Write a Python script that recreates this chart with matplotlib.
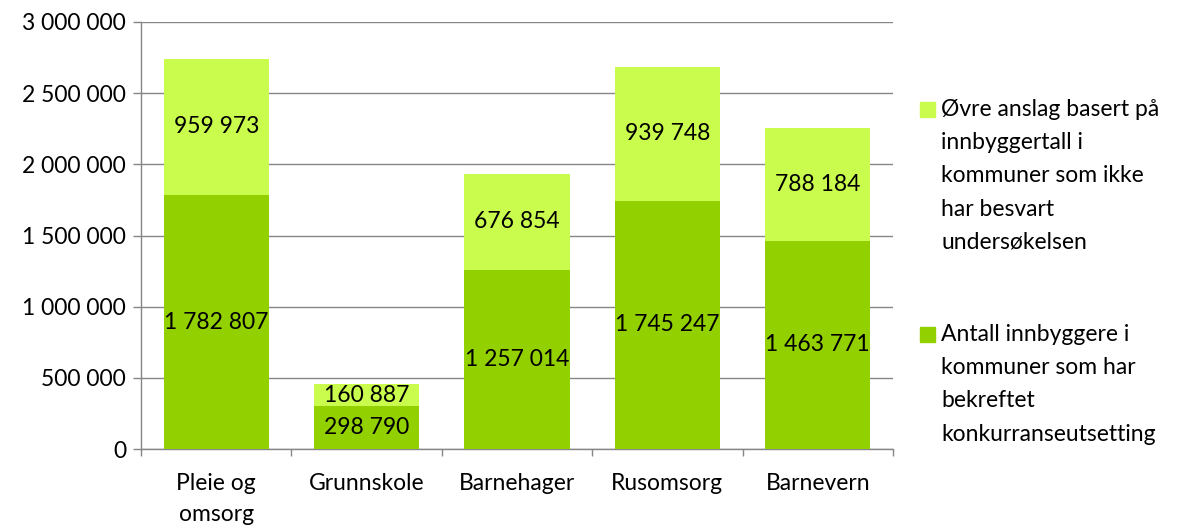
import matplotlib
matplotlib.use("Agg")
import matplotlib.pyplot as plt
from matplotlib.patches import Rectangle
import numpy as np

categories = ["Pleie og\nomsorg", "Grunnskole", "Barnehager", "Rusomsorg", "Barnevern"]
bekreftet = [1782807, 298790, 1257014, 1745247, 1463771]
ovre = [959973, 160887, 676854, 939748, 788184]
legend_labels = [
    "Øvre anslag basert på\ninnbyggertall i\nkommuner som ikke\nhar besvart\nundersøkelsen",
    "Antall innbyggere i\nkommuner som har\nbekreftet\nkonkurranseutsetting",
]
yticks = [0, 500000, 1000000, 1500000, 2000000, 2500000, 3000000]

c_low = "#92D000"
c_up = "#C9FC4C"
grid_c = "#868686"
FONT = "Lato"
FS = 16.5
LS = 1.72

plt.rcParams["font.family"] = [FONT, "DejaVu Sans"]

def fmt(v):
    return f"{v:,}".replace(",", " ")

fig = plt.figure(figsize=(11.77, 5.28), dpi=100)
ax = fig.add_axes([141 / 1177, 1 - 449 / 528, (893 - 141) / 1177, (449 - 22) / 528])

x = np.arange(len(categories))
ax.bar(x, bekreftet, width=0.7, color=c_low, zorder=3)
ax.bar(x, ovre, width=0.7, bottom=bekreftet, color=c_up, zorder=3)

for i in range(len(x)):
    ax.text(x[i], bekreftet[i] / 2, fmt(bekreftet[i]), ha="center", va="center",
            fontsize=FS, color="black", zorder=4)
    ax.text(x[i], bekreftet[i] + ovre[i] / 2, fmt(ovre[i]), ha="center", va="center",
            fontsize=FS, color="black", zorder=4)

ax.set_xlim(-0.5, len(x) - 0.5)
ax.set_ylim(0, 3000000)
ax.set_yticks(yticks)
ax.set_yticklabels([fmt(v) for v in yticks], fontsize=FS)
ax.yaxis.grid(True, color=grid_c, linewidth=1.0, zorder=0)
ax.set_axisbelow(True)

ax.set_xticks(x)
ax.set_xticklabels(categories, fontsize=FS, linespacing=1.6)
ax.set_xticks(np.arange(-0.5, len(x)), minor=True)
ax.tick_params(axis="x", which="major", length=0, pad=17)
ax.tick_params(axis="x", which="minor", length=5, color=grid_c, width=1.0, direction="out")
ax.tick_params(axis="y", length=5.8, color=grid_c, width=1.0, pad=5)

for s in ["top", "right"]:
    ax.spines[s].set_visible(False)
for s in ["left", "bottom"]:
    ax.spines[s].set_color(grid_c)
    ax.spines[s].set_linewidth(1.0)

# legend drawn manually
W, H = 1177, 528
entries = [(c_up, 102, legend_labels[0]), (c_low, 327, legend_labels[1])]
for col, ytop, lab in entries:
    fig.patches.append(Rectangle((920 / W, 1 - (ytop + 15) / H), 15 / W, 15 / H,
                                 transform=fig.transFigure, color=col))
    fig.text(941 / W, 1 - (ytop - 3) / H, lab, ha="left", va="top", fontsize=FS,
             linespacing=LS)

fig.savefig("out.png", dpi=100)
